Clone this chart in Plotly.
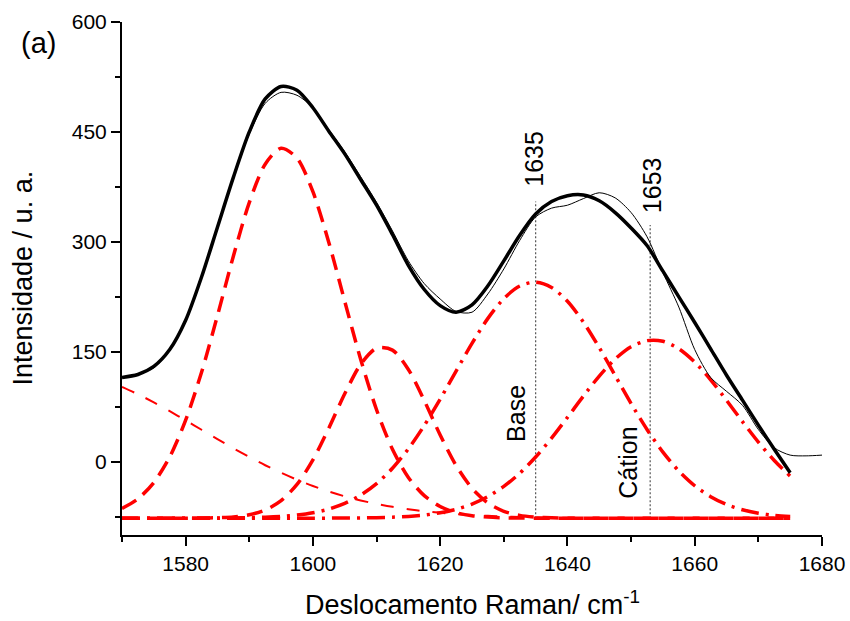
import plotly.graph_objects as go

# Raman shift grid of the fitted curves (cm-1)
shift_fit = [1570, 1572.5, 1575, 1577.5, 1580, 1582.5, 1585, 1587.5, 1590, 1592.5,
             1595, 1597.5, 1600, 1602.5, 1605, 1607.5, 1610, 1612.5, 1615, 1617.5,
             1620, 1622.5, 1625, 1627.5, 1630, 1632.5, 1635, 1637.5, 1640, 1642.5,
             1645, 1647.5, 1650, 1652.5, 1655, 1657.5, 1660, 1662.5, 1665, 1667.5,
             1670, 1672.5, 1675]
# Raman shift grid of the measured spectrum (cm-1)
shift_exp = shift_fit + [1677.5, 1680]

# measured spectrum (thin black)
spectrum = [115, 120, 128, 152, 191, 250, 318, 386, 447, 489,
            504, 500, 483, 453, 423, 389, 354, 315, 274, 243,
            222, 205, 204, 229, 263, 302, 334, 346, 350, 359,
            367, 360, 340, 307, 258, 211, 153, 115, 96, 77,
            44, 19, 9, 8, 9]

# cumulative fit (thick black)
fit_total = [115, 119, 130, 153, 193, 252, 320, 388, 450, 495,
             512, 507, 483, 451, 420, 385, 350, 310, 268, 235,
             213, 204, 214, 240, 274, 309, 338, 355, 363, 364,
             356, 340, 319, 295, 260, 225, 190, 154, 118, 84,
             50, 17, -15]

# fitted components (red)
peak_1595 = [-63.7, -50.7, -28.4, 6.5, 56.6, 122.1, 199.3, 280.4, 353.5, 406.0,
             427.7, 414.3, 368.4, 299.2, 218.9, 139.8, 70.9, 17.0, -21.4, -46.3,
             -61.2, -69.5, -73.6, -75.6, -76.5, -76.8, -77, -77, -77, -77,
             -77, -77, -77, -77, -77, -77, -77, -77, -77, -77,
             -77, -77, -77]
peak_1611 = [-77, -77, -77, -77, -77, -76.8, -76.4, -75.3, -72.4, -66.0,
             -53.2, -31.0, 2.4, 45.8, 92.7, 132.8, 154.9, 152.3, 125.9, 83.5,
             36.5, -5.2, -36.3, -56.4, -67.7, -73.2, -75.6, -76.6, -77, -77,
             -77, -77, -77, -77, -77, -77, -77, -77, -77, -77,
             -77, -77, -77]
peak_base = [-77, -77, -77, -77, -77, -77, -76.9, -76.7, -76.4, -75.8,
             -74.7, -72.8, -69.7, -64.6, -56.9, -45.6, -29.9, -8.9, 17.6, 49.4,
             85.4, 123.7, 161.5, 195.6, 222.6, 239.7, 245.0, 237.8, 218.9, 190.5,
             155.6, 117.5, 79.4, 44.0, 13.0, -12.7, -32.8, -47.7, -58.4, -65.6,
             -70.3, -73.2, -74.9]
peak_cation = [-77, -77, -77, -77, -77, -77, -77, -77, -77, -77,
               -77, -77, -77, -77, -76.8, -76.7, -76.3, -75.7, -74.6, -72.8,
               -69.7, -64.9, -57.8, -47.6, -33.7, -15.8, 6.4, 32.2, 60.5, 89.5,
               116.9, 140.2, 156.9, 165.2, 164.3, 154.1, 135.9, 111.7, 83.7, 54.7,
               26.8, 1.7, -19.7]
peak_wide = [102.1, 92.1, 81.0, 68.9, 56.4, 43.6, 30.8, 18.4, 6.5, -4.8,
             -15.1, -24.6, -33.1, -40.6, -47.2, -52.8, -57.6, -61.6, -64.9, -67.6,
             -69.8, -71.5, -72.9, -73.9, -74.7, -75.4, -75.8, -76.2, -76.4, -76.6,
             -76.7, -76.8, -76.9, -77, -77, -77, -77, -77, -77, -77,
             -77, -77, -77]

# marker lines for the assigned bands
band_pos = [1635, 1653]
band_top = [355, 323]
band_bottom = -77
band_labels = ["1635", "1653"]
species_labels = ["Base", "Cátion"]

x_ticks = [1580, 1600, 1620, 1640, 1660, 1680]
y_ticks = [0, 150, 300, 450, 600]

FONT = "Liberation Sans, Arial, sans-serif"
RED = "#ff0000"

fig = go.Figure()

# vertical dotted markers
for xp, yt in zip(band_pos, band_top):
    fig.add_trace(go.Scatter(x=[xp, xp], y=[band_bottom, yt], mode="lines",
                             line=dict(color="#555555", width=1.2, dash="2px,2px"),
                             hoverinfo="skip", showlegend=False))

comp_styles = [
    (peak_wide, dict(color=RED, width=2, dash="13px,13px")),
    (peak_1595, dict(color=RED, width=3.5, dash="16px,9px")),
    (peak_1611, dict(color=RED, width=3.5, dash="16px,9px")),
    (peak_base, dict(color=RED, width=3.5, dash="18px,7px,3px,7px")),
    (peak_cation, dict(color=RED, width=3.5, dash="18px,7px,3px,7px")),
]
for ys, ln in comp_styles:
    fig.add_trace(go.Scatter(x=shift_fit, y=ys, mode="lines",
                             line=dict(shape="spline", smoothing=0.8, **ln),
                             showlegend=False))

fig.add_trace(go.Scatter(x=shift_exp, y=spectrum, mode="lines",
                         line=dict(color="black", width=1, shape="spline", smoothing=0.8),
                         showlegend=False))
fig.add_trace(go.Scatter(x=shift_fit, y=fit_total, mode="lines",
                         line=dict(color="black", width=3.5, shape="spline", smoothing=0.8),
                         showlegend=False))

annotations = [
    dict(x=1634.7, y=413, xref="x", yref="y", text=band_labels[0], textangle=-90,
         showarrow=False, font=dict(family=FONT, size=25, color="black")),
    dict(x=1653.2, y=378, xref="x", yref="y", text=band_labels[1], textangle=-90,
         showarrow=False, font=dict(family=FONT, size=25, color="black")),
    dict(x=1632.0, y=66, xref="x", yref="y", text=species_labels[0], textangle=-90,
         showarrow=False, font=dict(family=FONT, size=25, color="black")),
    dict(x=1649.6, y=-2, xref="x", yref="y", text=species_labels[1], textangle=-90,
         showarrow=False, font=dict(family=FONT, size=25, color="black")),
    dict(x=0, y=1, xref="paper", yref="paper", xshift=-84, yshift=-21, text="(a)",
         showarrow=False, xanchor="center", yanchor="middle",
         font=dict(family=FONT, size=29, color="black")),
    dict(x=0.5, y=0, xref="paper", yref="paper", yshift=-68,
         text="Deslocamento Raman/ cm<sup>-1</sup>", showarrow=False,
         xanchor="center", yanchor="middle",
         font=dict(family=FONT, size=27, color="black")),
    dict(x=0, y=0.5, xref="paper", yref="paper", xshift=-100,
         text="Intensidade / u. a.", textangle=-90, showarrow=False,
         xanchor="center", yanchor="middle",
         font=dict(family=FONT, size=27, color="black")),
]

fig.update_layout(
    width=850, height=621,
    margin=dict(l=122, r=28, t=22, b=86, autoexpand=False),
    paper_bgcolor="white", plot_bgcolor="white",
    showlegend=False,
    annotations=annotations,
    font=dict(family=FONT, size=21, color="black"),
)
fig.update_xaxes(range=[1570, 1680], tickvals=x_ticks, ticks="outside", ticklen=9,
                 tickwidth=1.5, tickcolor="black", showline=True, linecolor="black",
                 linewidth=2, showgrid=False, zeroline=False, mirror=False,
                 automargin=False,
                 tickfont=dict(family=FONT, size=21, color="black"),
                 minor=dict(ticks="outside", ticklen=5, tickwidth=1.5, tickcolor="black",
                            tick0=1570, dtick=10, showgrid=False))
fig.update_yaxes(range=[-100, 600], tickvals=y_ticks, ticks="outside", ticklen=9,
                 tickwidth=1.5, tickcolor="black", showline=True, linecolor="black",
                 linewidth=2, showgrid=False, zeroline=False, mirror=False,
                 automargin=False,
                 tickfont=dict(family=FONT, size=21, color="black"),
                 minor=dict(ticks="outside", ticklen=5, tickwidth=1.5, tickcolor="black",
                            tick0=-75, dtick=75, showgrid=False))

fig.write_html("out.html")
